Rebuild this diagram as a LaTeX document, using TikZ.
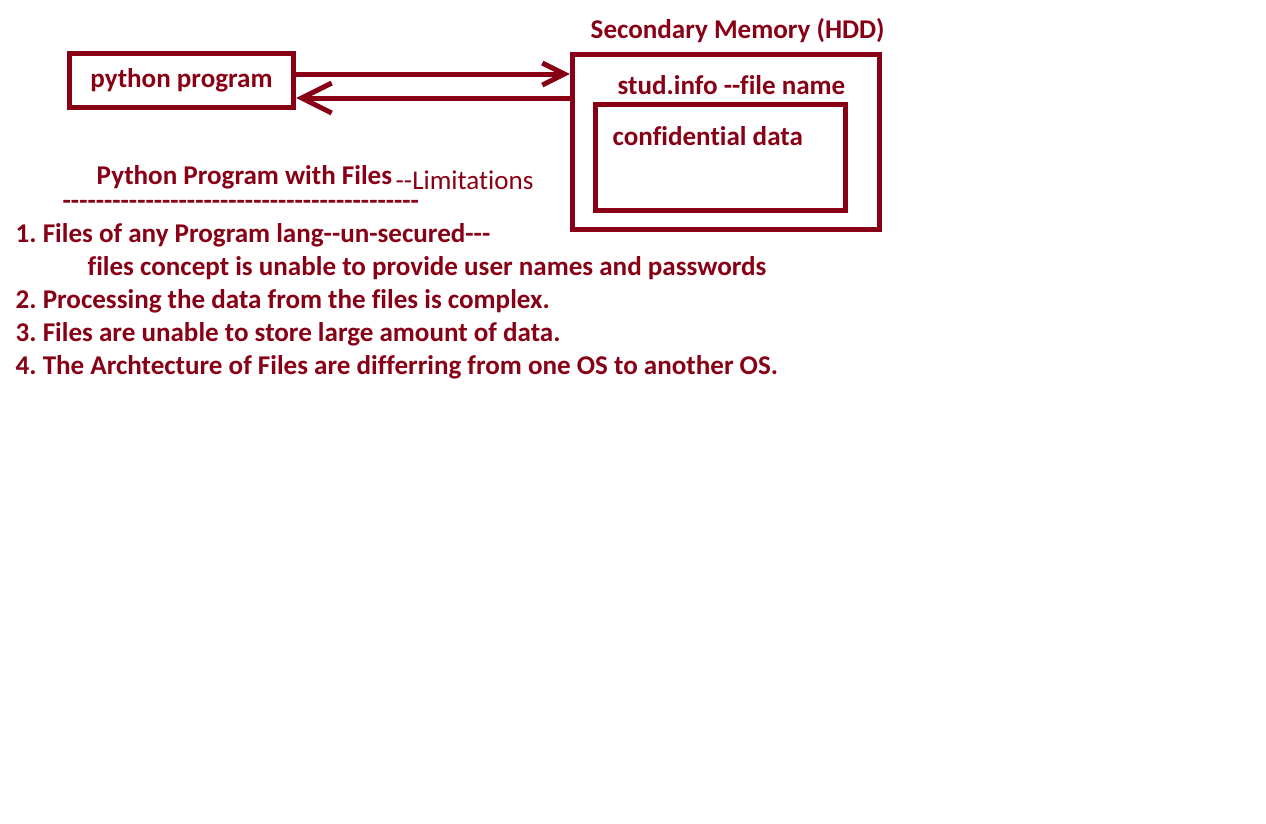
\documentclass[tikz,border=0pt]{standalone}
\usepackage{fontspec}
\setmainfont{Carlito}[Ligatures=CommonOff]
\usetikzlibrary{arrows.meta}
\definecolor{paintred}{HTML}{880015}
\newcommand\dd{-\kern0pt-}
\frenchspacing
\tikzset{
  box/.style={draw=paintred,line width=0.05cm,inner sep=0pt},
  txt/.style={anchor=base west,inner sep=0pt,text=paintred,font=\fontsize{7.7}{9}\selectfont\bfseries},
  link/.style={draw=paintred,line width=0.05cm}
}

\begin{document}
\begin{tikzpicture}[x=0.01cm,y=-0.01cm]
\useasboundingbox (0,0) rectangle (1266,823);
% program and disk
\node[box,minimum width=2.24cm,minimum height=0.54cm,text=paintred,font=\fontsize{7.7}{9}\selectfont\bfseries] (prog) at (181.5,80.5) {python program};
\node[box,minimum width=3.07cm,minimum height=1.75cm] (hdd) at (726,142) {};
\node[box,minimum width=2.50cm,minimum height=1.06cm] (data) at (720.5,157.5) {};
\node[txt] (hddname) at (590,38) {Secondary Memory (HDD)};
\node[txt] (fname) at (617,94) {stud.info \dd file name};
\node[txt] (dname) at (612,145) {confidential data};
% read / write
\coordinate (wr) at (0,74);
\coordinate (rd) at (0,98);
\draw[link,-{Straight Barb[length=0.22cm,width=0.22cm]}] (prog.east |- wr) -- (hdd.west |- wr);
\draw[link,-{Straight Barb[length=0.3cm,width=0.3cm]}] (hdd.west |- rd) -- (prog.east |- rd);
% limitations
\node[txt] (title) at (96,184) {Python Program with Files};
\node[txt,font=\fontsize{7.7}{9}\selectfont] (limits) at (395,189) {\dd Limitations};
\node[txt,text height=0.8ex,text depth=0pt] (rule) at (62,209) {\foreach \k in {1,...,43}{-\kern0pt}};
\foreach \x/\y/\t [count=\i] in {15/242/{1. Files of any Program lang\dd un-secured\dd\kern0pt-},
  87/275/{files concept is unable to provide user names and passwords},
  15/308/{2. Processing the data from the files is complex.},
  15/341/{3. Files are unable to store large amount of data.},
  15/374/{4. The Archtecture of Files are differring from one OS to another OS.}}
  \node[txt] (item\i) at (\x,\y) {\t};
\end{tikzpicture}
\end{document}
